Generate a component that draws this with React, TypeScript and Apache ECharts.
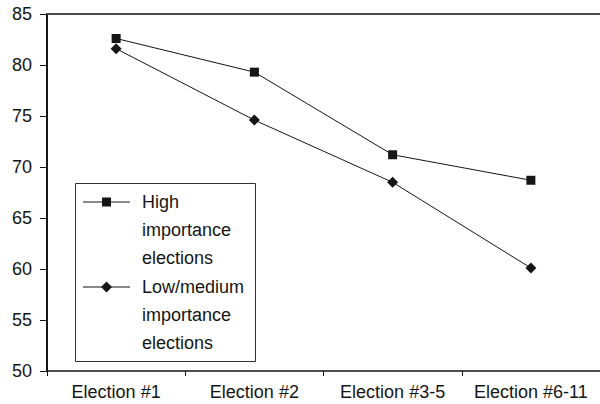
import React, { useEffect, useRef } from "react";
import * as echarts from "echarts";

const categories = ["Election #1", "Election #2", "Election #3-5", "Election #6-11"];
const seriesNames = ["High\nimportance\nelections", "Low/medium\nimportance\nelections"];
const highValues = [82.6, 79.3, 71.2, 68.7];
const lowValues = [81.6, 74.6, 68.5, 60.1];
const yMin = 50;
const yMax = 85;
const yInterval = 5;

const FONT = "'Liberation Sans', Arial, sans-serif";
const INK = "#151515";

export default function App() {
  const ref = useRef<HTMLDivElement>(null);
  useEffect(() => {
    if (!ref.current) return;
    const chart = echarts.init(ref.current, undefined, { renderer: "svg" });
    const legendItem = (i: number, symbol: "square" | "diamond") => {
      const cy = 202 + i * 85;
      const marker =
        symbol === "square"
          ? { type: "rect", z: 12, shape: { x: 106.5 - 4.5, y: cy - 4.5, width: 9, height: 9 }, style: { fill: INK } }
          : {
              type: "polygon",
              z: 12,
              shape: { points: [[106.5, cy - 5.5], [112, cy], [106.5, cy + 5.5], [101, cy]] },
              style: { fill: INK },
            };
      return [
        { type: "line", z: 11, shape: { x1: 83, y1: cy, x2: 130, y2: cy }, style: { stroke: INK, lineWidth: 1 } },
        marker,
        {
          type: "text",
          z: 12,
          x: 142,
          y: cy - 14,
          style: {
            text: seriesNames[i],
            fill: INK,
            font: `18px ${FONT}`,
            lineHeight: 28,
            verticalAlign: "top",
            align: "left",
          },
        },
      ];
    };
    chart.setOption({
      animation: false,
      backgroundColor: "#ffffff",
      grid: { left: 47, top: 14, width: 556, height: 357, containLabel: false },
      xAxis: [
        {
          type: "category",
          data: categories,
          boundaryGap: true,
          axisLine: { show: true, lineStyle: { color: INK, width: 1.5 } },
          axisTick: { show: true, length: 5, lineStyle: { color: INK, width: 1 } },
          axisLabel: { color: INK, fontSize: 18, fontFamily: FONT, margin: 12, interval: 0 },
          splitLine: { show: false },
        },
        {
          type: "category",
          data: categories,
          position: "top",
          axisLine: { show: true, onZero: false, lineStyle: { color: "#4a4a4a", width: 2 } },
          axisTick: { show: false },
          axisLabel: { show: false },
          splitLine: { show: false },
        },
      ],
      yAxis: {
        type: "value",
        min: yMin,
        max: yMax,
        interval: yInterval,
        axisLine: { show: true, lineStyle: { color: INK, width: 2 } },
        axisTick: { show: true, length: 7, lineStyle: { color: INK, width: 1 } },
        axisLabel: { color: INK, fontSize: 18, fontFamily: FONT, margin: 15 },
        splitLine: { show: false },
      },
      legend: { show: false },
      series: [
        {
          name: seriesNames[0],
          type: "line",
          data: highValues,
          symbol: "rect",
          symbolSize: 9,
          lineStyle: { color: INK, width: 1 },
          itemStyle: { color: INK },
        },
        {
          name: seriesNames[1],
          type: "line",
          data: lowValues,
          symbol: "diamond",
          symbolSize: 11,
          lineStyle: { color: INK, width: 1 },
          itemStyle: { color: INK },
        },
      ],
      graphic: [
        {
          type: "rect",
          z: 10,
          shape: { x: 75.5, y: 183.5, width: 180, height: 178 },
          style: { fill: "#ffffff", stroke: "#333333", lineWidth: 1 },
        },
        ...legendItem(0, "square"),
        ...legendItem(1, "diamond"),
      ],
    });
    return () => chart.dispose();
  }, []);
  return <div ref={ref} style={{ position: "fixed", left: 0, top: 0, width: 600, height: 404 }} />;
}
